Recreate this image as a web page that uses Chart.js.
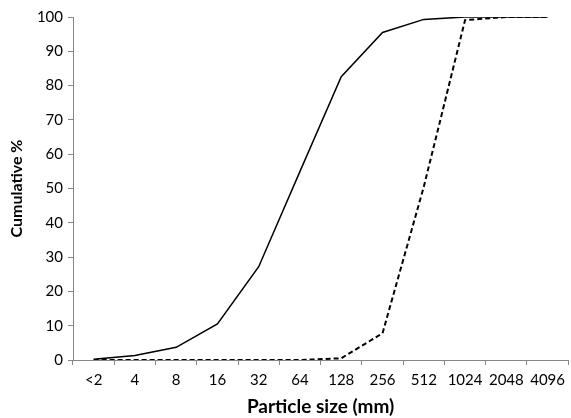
<!DOCTYPE html>
<html>
<head>
<meta charset="utf-8">
<script src="https://cdn.jsdelivr.net/npm/chart.js@4/dist/chart.umd.min.js"></script>
<style>
    html, body { margin: 0; padding: 0; background: #fff; }
    #box { width: 571px; height: 418px; position: relative; }
</style>
</head>
<body>
<div id="box"><canvas id="sizeChart"></canvas></div>
<script>
// classes de tamanho (mm)
const categorias = ["<2", "4", "8", "16", "32", "64", "128", "256", "512", "1024", "2048", "4096"];
// curvas acumuladas (%)
const serieContinua = [0.2, 1.3, 3.7, 10.5, 27.2, 55, 82.6, 95.5, 99.3, 100, 100, 100];
const serieTracejada = [0, 0, 0, 0, 0, 0, 0.5, 7.8, 50.5, 99.1, 100, 100];
const yTicks = [0, 10, 20, 30, 40, 50, 60, 70, 80, 90, 100];

const corEixo = '#868686';
const fonte = 'Lato, Carlito, "Liberation Sans", sans-serif';

const ctx = document.getElementById("sizeChart").getContext("2d");

new Chart(ctx, {
    type: 'line',
    data: {
        labels: categorias,
        datasets: [{
            data: serieContinua,
            borderColor: '#000',
            borderWidth: 1.5,
            pointRadius: 0,
            tension: 0,
            fill: false
        }, {
            data: serieTracejada,
            borderColor: '#000',
            borderWidth: 2,
            borderDash: [5, 3],
            pointRadius: 0,
            tension: 0,
            fill: false
        }]
    },
    options: {
        responsive: true,
        maintainAspectRatio: false,
        animation: false,
        layout: { padding: { top: 17, right: 0, bottom: 0, left: 0 } },
        plugins: {
            legend: { display: false },
            tooltip: { enabled: false }
        },
        scales: {
            x: {
                offset: true,
                grid: {
                    offset: true,
                    drawOnChartArea: false,
                    drawTicks: true,
                    tickLength: 5,
                    color: corEixo
                },
                border: { color: corEixo, width: 1 },
                ticks: {
                    color: '#000',
                    font: { family: fonte, size: 15 },
                    padding: 6,
                    maxRotation: 0,
                    autoSkip: false
                },
                title: {
                    display: true,
                    text: 'Particle size (mm)',
                    color: '#000',
                    font: { family: fonte, size: 19, weight: 'bold' },
                    padding: { top: 1, bottom: 0 }
                },
                afterFit: (scale) => { scale.height = 58; }
            },
            y: {
                min: 0,
                max: 100,
                afterBuildTicks: (scale) => {
                    scale.ticks = yTicks.map(v => ({ value: v }));
                },
                grid: {
                    drawOnChartArea: false,
                    drawTicks: true,
                    tickLength: 5,
                    color: corEixo
                },
                border: { color: corEixo, width: 1 },
                ticks: {
                    color: '#000',
                    font: { family: fonte, size: 15 },
                    padding: 5
                },
                title: {
                    display: true,
                    text: 'Cumulative %',
                    color: '#000',
                    font: { family: fonte, size: 16, weight: 'bold' },
                    padding: { top: 7, bottom: 6 }
                },
                afterFit: (scale) => { scale.width = 73; }
            }
        }
    }
});
</script>
</body>
</html>
